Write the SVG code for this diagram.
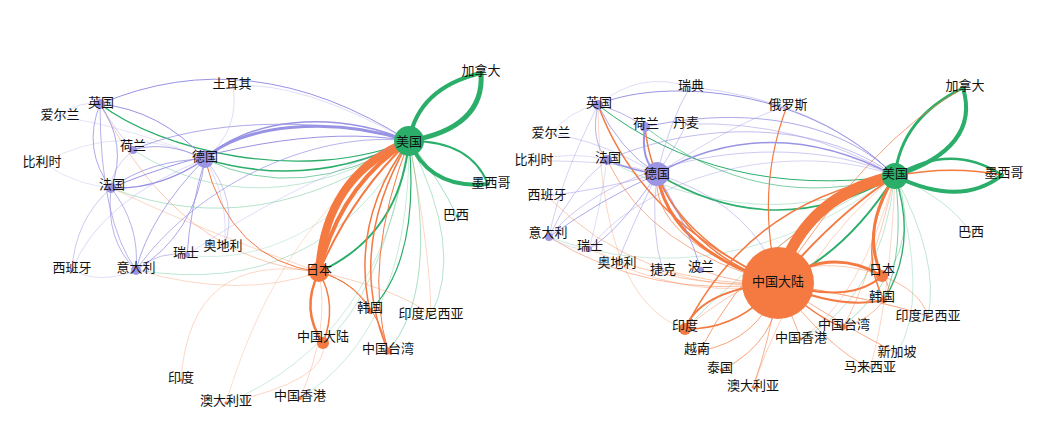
<svg xmlns="http://www.w3.org/2000/svg" width="1039" height="436" viewBox="0 0 1039 436">
<style>
.g{stroke:#2aae6a;fill:none}
.o{stroke:#f47a42;fill:none}
.p{stroke:#9993e3;fill:none}
.ng{fill:#2aae6a}
.no{fill:#f47a42}
.np{fill:#9b95e4}
text{font-family:"Noto Sans CJK SC","Noto Sans",sans-serif;font-size:13px;fill:#111;text-anchor:middle}
</style>
<rect width="1039" height="436" fill="#ffffff"/>
<g id="connectors">
<!-- LEFT green -->
<path class="g" stroke-width="4" d="M409,141 Q418,88 481,73"/>
<path class="g" stroke-width="5" d="M409,141 Q485,128 481,73"/>
<path class="g" stroke-width="2" d="M409,141 Q470,140 488,184"/>
<path class="g" stroke-width="4" d="M409,141 Q430,190 488,184"/>
<path class="g" stroke-width="2" d="M409,141 Q400,235 319,272"/>
<path class="g" stroke-width="1.3" d="M100,104 C160,150 300,185 409,141"/>
<path class="g" stroke-width="1.5" d="M205,159 Q310,190 409,141"/>
<path class="g" opacity=".6" d="M205,159 Q300,205 409,141"/>
<path class="g" opacity=".35" d="M111,188 Q260,245 409,141"/>
<path class="g" opacity=".3" d="M136,270 Q320,300 409,141"/>
<path class="g" opacity=".3" d="M133,150 Q260,230 409,141"/>
<path class="g" stroke-width="1.2" d="M409,141 Q420,260 370,311"/>
<path class="g" opacity=".4" d="M409,141 Q440,290 388,351"/>
<path class="g" opacity=".4" d="M409,141 Q440,180 457,216"/>
<path class="g" opacity=".35" d="M409,141 Q465,250 431,315"/>
<path class="g" opacity=".3" d="M409,141 Q380,300 323,343"/>
<path class="g" opacity=".25" d="M409,141 Q380,340 226,403"/>
<path class="g" opacity=".25" d="M409,141 Q410,330 300,398"/>
<path class="g" opacity=".2" d="M409,141 Q300,270 187,255"/>
<!-- LEFT orange -->
<path class="o" stroke-width="8" d="M319,272 Q325,175 409,141"/>
<path class="o" stroke-width="4" d="M319,272 Q340,185 409,141"/>
<path class="o" stroke-width="2" d="M319,272 Q352,195 409,141"/>
<path class="o" stroke-width="1.5" d="M409,141 Q350,220 370,311"/>
<path class="o" stroke-width="1.5" d="M409,141 Q345,250 388,351"/>
<path class="o" d="M409,141 Q362,262 388,351"/>
<path class="o" stroke-width="2.5" d="M319,272 Q300,310 323,343"/>
<path class="o" stroke-width="1.5" d="M319,272 Q338,305 323,343"/>
<path class="o" d="M319,272 Q355,282 370,311"/>
<path class="o" d="M319,272 Q372,285 388,351"/>
<path class="o" d="M205,159 Q230,260 319,272"/>
<path class="o" opacity=".4" d="M100,104 Q180,260 319,272"/>
<path class="o" opacity=".3" d="M319,272 Q200,230 111,188"/>
<path class="o" opacity=".3" d="M181,380 Q190,250 319,272"/>
<path class="o" opacity=".3" d="M226,403 Q330,380 323,343"/>
<path class="o" opacity=".3" d="M300,398 Q330,330 319,272"/>
<path class="o" opacity=".3" d="M136,270 Q240,300 319,272"/>
<path class="o" opacity=".25" d="M409,141 Q280,220 226,403"/>
<path class="o" opacity=".35" d="M319,272 Q400,290 431,315"/>
<path class="o" opacity=".3" d="M409,141 Q430,250 431,315"/>
<!-- LEFT purple -->
<path class="p" d="M100,104 Q250,40 409,141"/>
<path class="p" stroke-width="3" d="M205,159 C240,125 330,115 409,141"/>
<path class="p" stroke-width="1.5" d="M205,159 C245,120 330,108 409,141"/>
<path class="p" opacity=".8" d="M133,150 C200,120 320,115 409,141"/>
<path class="p" d="M111,188 C200,150 320,125 409,141"/>
<path class="p" opacity=".7" d="M136,270 C200,180 320,130 409,141"/>
<path class="p" d="M100,104 Q160,110 205,159"/>
<path class="p" opacity=".8" d="M100,104 Q82,150 111,188"/>
<path class="p" opacity=".8" d="M100,104 Q128,145 111,188"/>
<path class="p" opacity=".7" d="M100,104 Q100,220 136,270"/>
<path class="p" stroke-width="1.5" d="M205,159 Q160,190 111,188"/>
<path class="p" opacity=".8" d="M205,159 Q150,160 111,188"/>
<path class="p" opacity=".8" d="M205,159 Q165,140 133,150"/>
<path class="p" opacity=".8" d="M205,159 Q150,215 136,270"/>
<path class="p" opacity=".8" d="M205,159 Q195,235 136,270"/>
<path class="p" opacity=".8" d="M205,159 Q190,210 187,255"/>
<path class="p" opacity=".5" d="M205,159 Q240,200 224,248"/>
<path class="p" opacity=".7" d="M111,188 Q105,240 136,270"/>
<path class="p" opacity=".7" d="M111,188 Q140,225 136,270"/>
<path class="p" opacity=".5" d="M111,188 Q75,220 72,270"/>
<path class="p" opacity=".35" d="M205,159 Q100,200 72,270"/>
<path class="p" opacity=".25" d="M43,163 Q120,215 205,159"/>
<path class="p" opacity=".25" d="M43,163 Q120,120 205,159"/>
<path class="p" opacity=".3" d="M60,116 Q80,100 100,104"/>
<path class="p" opacity=".25" d="M60,116 Q140,130 205,159"/>
<path class="p" opacity=".3" d="M233,86 Q240,130 205,159"/>
<path class="p" opacity=".6" d="M136,270 Q160,250 187,255"/>
<path class="p" opacity=".4" d="M133,150 Q110,170 111,188"/>
<path class="p" opacity=".4" d="M100,104 Q115,130 133,150"/>
<path class="p" opacity=".3" d="M72,270 Q100,285 136,270"/>
<path class="p" opacity=".3" d="M409,141 Q280,190 187,255"/>
<path class="p" opacity=".3" d="M233,86 Q300,80 409,141"/>
<path class="p" opacity=".3" d="M224,248 Q230,200 205,159"/>
<!-- RIGHT green -->
<path class="g" stroke-width="3" d="M895,176 Q901,118 963,88"/>
<path class="g" stroke-width="4" d="M895,176 Q981,148 963,88"/>
<path class="g" stroke-width="2.5" d="M895,176 Q951,142 1002,175"/>
<path class="g" stroke-width="4" d="M895,176 Q961,208 1002,175"/>
<path class="g" stroke-width="2" d="M778,283 Q845,255 895,176"/>
<path class="g" stroke-width="1.5" d="M657,174 Q775,245 895,176"/>
<path class="g" d="M598,105 Q720,200 895,176"/>
<path class="g" opacity=".6" d="M645,127 Q760,215 895,176"/>
<path class="g" stroke-width="1.3" d="M895,176 Q918,245 884,300"/>
<path class="g" opacity=".6" d="M895,176 Q905,250 884,300"/>
<path class="g" opacity=".4" d="M895,176 Q930,250 843,327"/>
<path class="g" opacity=".3" d="M895,176 Q950,200 970,232"/>
<path class="g" opacity=".3" d="M895,176 Q940,260 928,316"/>
<path class="g" opacity=".3" d="M607,160 Q760,240 895,176"/>
<path class="g" opacity=".25" d="M549,237 Q720,300 895,176"/>
<path class="g" opacity=".3" d="M895,176 Q880,300 801,339"/>
<path class="g" opacity=".3" d="M895,176 Q780,230 685,329"/>
<path class="g" opacity=".25" d="M895,176 Q930,300 897,353"/>
<!-- RIGHT orange -->
<path class="o" stroke-width="11" d="M778,283 Q803,195 895,176"/>
<path class="o" stroke-width="2" d="M778,283 Q835,215 895,176"/>
<path class="o" stroke-width="1.5" d="M778,283 Q790,200 895,176"/>
<path class="o" stroke-width="1.5" d="M685,329 Q750,200 895,176"/>
<path class="o" opacity=".7" d="M895,176 Q760,230 700,351"/>
<path class="o" stroke-width="3" d="M657,174 Q670,250 778,283"/>
<path class="o" stroke-width="1.5" d="M657,174 Q690,255 778,283"/>
<path class="o" opacity=".7" d="M657,174 Q650,240 778,283"/>
<path class="o" stroke-width="3" d="M778,283 Q830,245 882,276"/>
<path class="o" stroke-width="2" d="M778,283 Q850,305 882,276"/>
<path class="o" stroke-width="2" d="M778,283 Q840,310 884,300"/>
<path class="o" stroke-width="3" d="M895,176 Q860,230 882,276"/>
<path class="o" stroke-width="1.5" d="M895,176 Q855,245 884,300"/>
<path class="o" stroke-width="1.5" d="M895,176 Q950,165 1002,175"/>
<path class="o" opacity=".7" d="M963,88 Q870,140 778,283"/>
<path class="o" stroke-width="1.2" d="M787,106 Q755,190 778,283"/>
<path class="o" stroke-width="1.5" d="M598,105 Q640,220 778,283"/>
<path class="o" stroke-width="1.5" d="M645,127 Q655,230 778,283"/>
<path class="o" opacity=".6" d="M607,160 Q650,250 778,283"/>
<path class="o" opacity=".5" d="M549,237 Q650,300 778,283"/>
<path class="o" opacity=".4" d="M547,196 Q640,290 778,283"/>
<path class="o" opacity=".4" d="M589,249 Q680,290 778,283"/>
<path class="o" opacity=".35" d="M617,264 Q700,300 778,283"/>
<path class="o" opacity=".35" d="M663,271 Q720,290 778,283"/>
<path class="o" opacity=".5" d="M701,270 Q740,285 778,283"/>
<path class="o" stroke-width="2" d="M685,329 Q700,290 778,283"/>
<path class="o" stroke-width="1.5" d="M685,329 Q740,330 778,283"/>
<path class="o" opacity=".7" d="M700,351 Q760,340 778,283"/>
<path class="o" opacity=".7" d="M722,370 Q780,340 778,283"/>
<path class="o" opacity=".6" d="M753,387 Q770,340 778,283"/>
<path class="o" opacity=".6" d="M801,339 Q790,310 778,283"/>
<path class="o" stroke-width="1.5" d="M778,283 Q820,320 843,327"/>
<path class="o" opacity=".6" d="M778,283 Q850,330 897,353"/>
<path class="o" opacity=".6" d="M778,283 Q830,350 870,368"/>
<path class="o" opacity=".7" d="M778,283 Q880,300 928,316"/>
<path class="o" opacity=".5" d="M882,276 Q920,290 928,316"/>
<path class="o" opacity=".6" d="M882,276 Q895,290 884,300"/>
<path class="o" opacity=".5" d="M884,300 Q870,320 843,327"/>
<path class="o" opacity=".4" d="M895,176 Q870,280 843,327"/>
<path class="o" opacity=".35" d="M895,176 Q800,250 753,387"/>
<path class="o" opacity=".3" d="M895,176 Q860,300 801,339"/>
<path class="o" opacity=".3" d="M895,176 Q890,300 870,368"/>
<path class="o" opacity=".4" d="M685,329 Q790,240 882,276"/>
<path class="o" opacity=".3" d="M598,105 Q600,300 685,329"/>
<!-- RIGHT purple -->
<path class="p" stroke-width="1.5" d="M657,174 Q770,110 895,176"/>
<path class="p" d="M598,105 C650,80 800,80 895,176"/>
<path class="p" opacity=".8" d="M645,127 C720,110 830,110 895,176"/>
<path class="p" opacity=".6" d="M607,160 C700,120 820,120 895,176"/>
<path class="p" opacity=".5" d="M686,124 Q800,120 895,176"/>
<path class="p" opacity=".4" d="M690,87 Q820,100 895,176"/>
<path class="p" opacity=".5" d="M549,237 C620,150 800,130 895,176"/>
<path class="p" opacity=".4" d="M589,249 C650,170 800,140 895,176"/>
<path class="p" opacity=".5" d="M657,174 Q740,200 770,260"/>
<path class="p" opacity=".8" d="M598,105 Q620,150 657,174"/>
<path class="p" opacity=".7" d="M598,105 Q590,140 607,160"/>
<path class="p" opacity=".7" d="M598,105 Q620,110 645,127"/>
<path class="p" stroke-width="2" d="M645,127 Q640,160 657,174"/>
<path class="p" stroke-width="1.5" d="M657,174 Q630,170 607,160"/>
<path class="p" opacity=".8" d="M657,174 Q600,200 549,237"/>
<path class="p" opacity=".7" d="M657,174 Q620,230 589,249"/>
<path class="p" opacity=".4" d="M657,174 Q620,160 535,161"/>
<path class="p" opacity=".4" d="M657,174 Q600,140 551,134"/>
<path class="p" opacity=".5" d="M657,174 Q600,190 547,196"/>
<path class="p" opacity=".8" d="M657,174 Q690,230 701,270"/>
<path class="p" opacity=".5" d="M657,174 Q650,230 663,271"/>
<path class="p" opacity=".5" d="M657,174 Q630,230 617,264"/>
<path class="p" opacity=".5" d="M657,174 Q670,120 690,87"/>
<path class="p" opacity=".5" d="M657,174 Q680,140 686,124"/>
<path class="p" opacity=".4" d="M657,174 Q740,120 787,106"/>
<path class="p" opacity=".5" d="M607,160 Q570,190 549,237"/>
<path class="p" opacity=".4" d="M598,105 Q560,180 549,237"/>
<path class="p" opacity=".3" d="M598,105 Q640,70 690,87"/>
<path class="p" opacity=".3" d="M551,134 Q570,110 598,105"/>
<path class="p" opacity=".3" d="M535,161 Q570,150 607,160"/>
<path class="p" opacity=".3" d="M549,237 Q570,250 589,249"/>
<path class="p" opacity=".3" d="M607,160 Q600,210 589,249"/>
</g>
<!-- LEFT nodes -->
<g id="L-US"><circle class="ng" cx="409" cy="141" r="15"/><text x="409" y="146">美国</text></g>
<g id="L-CA"><circle class="ng" cx="481" cy="73" r="2"/><text x="481" y="75">加拿大</text></g>
<g id="L-MX"><circle class="ng" cx="488" cy="184" r="2"/><text x="491" y="187">墨西哥</text></g>
<g id="L-BR"><circle class="ng" cx="457" cy="216" r="1.5"/><text x="456" y="219">巴西</text></g>
<g id="L-DE"><circle class="np" cx="205" cy="159" r="9"/><text x="205" y="161">德国</text></g>
<g id="L-UK"><circle class="np" cx="100" cy="104" r="5"/><text x="101" y="107">英国</text></g>
<g id="L-IE"><circle class="np" cx="60" cy="116" r="1"/><text x="60" y="119">爱尔兰</text></g>
<g id="L-NL"><circle class="np" cx="133" cy="150" r="4"/><text x="133" y="150">荷兰</text></g>
<g id="L-BE"><circle class="np" cx="43" cy="163" r="1"/><text x="42" y="166">比利时</text></g>
<g id="L-FR"><circle class="np" cx="111" cy="188" r="5"/><text x="112" y="189">法国</text></g>
<g id="L-TR"><circle class="np" cx="233" cy="86" r="1"/><text x="232" y="88">土耳其</text></g>
<g id="L-ES"><circle class="np" cx="72" cy="270" r="2"/><text x="72" y="272">西班牙</text></g>
<g id="L-IT"><circle class="np" cx="136" cy="270" r="5"/><text x="136" y="272">意大利</text></g>
<g id="L-CH"><circle class="np" cx="187" cy="255" r="3"/><text x="186" y="257">瑞士</text></g>
<g id="L-AT"><circle class="np" cx="224" cy="248" r="1"/><text x="223" y="250">奥地利</text></g>
<g id="L-JP"><circle class="no" cx="319" cy="272" r="10"/><text x="319" y="274">日本</text></g>
<g id="L-KR"><circle class="no" cx="370" cy="311" r="3"/><text x="370" y="312">韩国</text></g>
<g id="L-ID"><circle class="no" cx="431" cy="315" r="1"/><text x="431" y="318">印度尼西亚</text></g>
<g id="L-CN"><circle class="no" cx="323" cy="343" r="6"/><text x="323" y="341">中国大陆</text></g>
<g id="L-TW"><circle class="no" cx="388" cy="351" r="3.5"/><text x="388" y="353">中国台湾</text></g>
<g id="L-IN"><circle class="no" cx="181" cy="380" r="1.5"/><text x="181" y="382">印度</text></g>
<g id="L-AU"><circle class="no" cx="226" cy="403" r="1.5"/><text x="226" y="405">澳大利亚</text></g>
<g id="L-HK"><circle class="no" cx="300" cy="398" r="2"/><text x="300" y="400">中国香港</text></g>
<!-- RIGHT nodes -->
<g id="R-US"><circle class="ng" cx="895" cy="176" r="13"/><text x="895" y="178">美国</text></g>
<g id="R-CA"><circle class="ng" cx="963" cy="88" r="2"/><text x="965" y="90">加拿大</text></g>
<g id="R-MX"><circle class="ng" cx="1002" cy="175" r="2"/><text x="1004" y="177">墨西哥</text></g>
<g id="R-BR"><circle class="ng" cx="970" cy="232" r="1"/><text x="971" y="236">巴西</text></g>
<g id="R-CN"><circle class="no" cx="778" cy="283" r="36"/><text x="778" y="286">中国大陆</text></g>
<g id="R-DE"><circle class="np" cx="657" cy="174" r="12"/><text x="657" y="178">德国</text></g>
<g id="R-UK"><circle class="np" cx="598" cy="105" r="5"/><text x="599" y="107">英国</text></g>
<g id="R-SE"><circle class="np" cx="690" cy="87" r="1"/><text x="691" y="90">瑞典</text></g>
<g id="R-RU"><circle class="np" cx="787" cy="106" r="1"/><text x="788" y="109">俄罗斯</text></g>
<g id="R-NL"><circle class="np" cx="645" cy="127" r="5"/><text x="646" y="128">荷兰</text></g>
<g id="R-DK"><circle class="np" cx="686" cy="124" r="1"/><text x="686" y="127">丹麦</text></g>
<g id="R-IE"><circle class="np" cx="551" cy="134" r="1"/><text x="551" y="137">爱尔兰</text></g>
<g id="R-BE"><circle class="np" cx="535" cy="161" r="1"/><text x="534" y="164">比利时</text></g>
<g id="R-FR"><circle class="np" cx="607" cy="160" r="5"/><text x="608" y="162">法国</text></g>
<g id="R-ES"><circle class="np" cx="547" cy="196" r="1"/><text x="547" y="199">西班牙</text></g>
<g id="R-IT"><circle class="np" cx="549" cy="237" r="4"/><text x="548" y="237">意大利</text></g>
<g id="R-CH"><circle class="np" cx="589" cy="249" r="3"/><text x="590" y="250">瑞士</text></g>
<g id="R-AT"><circle class="np" cx="617" cy="264" r="1"/><text x="617" y="267">奥地利</text></g>
<g id="R-CZ"><circle class="np" cx="663" cy="271" r="1"/><text x="663" y="274">捷克</text></g>
<g id="R-PL"><circle class="np" cx="701" cy="270" r="3"/><text x="701" y="271">波兰</text></g>
<g id="R-JP"><circle class="no" cx="882" cy="276" r="6"/><text x="882" y="274">日本</text></g>
<g id="R-KR"><circle class="no" cx="884" cy="300" r="3"/><text x="882" y="301">韩国</text></g>
<g id="R-ID"><circle class="no" cx="928" cy="316" r="1"/><text x="928" y="320">印度尼西亚</text></g>
<g id="R-TW"><circle class="no" cx="843" cy="327" r="3"/><text x="844" y="329">中国台湾</text></g>
<g id="R-HK"><circle class="no" cx="801" cy="339" r="1.5"/><text x="801" y="342">中国香港</text></g>
<g id="R-IN"><circle class="no" cx="685" cy="329" r="6"/><text x="685" y="330">印度</text></g>
<g id="R-VN"><circle class="no" cx="700" cy="351" r="2"/><text x="697" y="353">越南</text></g>
<g id="R-TH"><circle class="no" cx="722" cy="370" r="2"/><text x="720" y="372">泰国</text></g>
<g id="R-AU"><circle class="no" cx="753" cy="387" r="1.5"/><text x="753" y="390">澳大利亚</text></g>
<g id="R-SG"><circle class="no" cx="897" cy="353" r="1"/><text x="897" y="356">新加坡</text></g>
<g id="R-MY"><circle class="no" cx="870" cy="368" r="1"/><text x="870" y="371">马来西亚</text></g>
</svg>
